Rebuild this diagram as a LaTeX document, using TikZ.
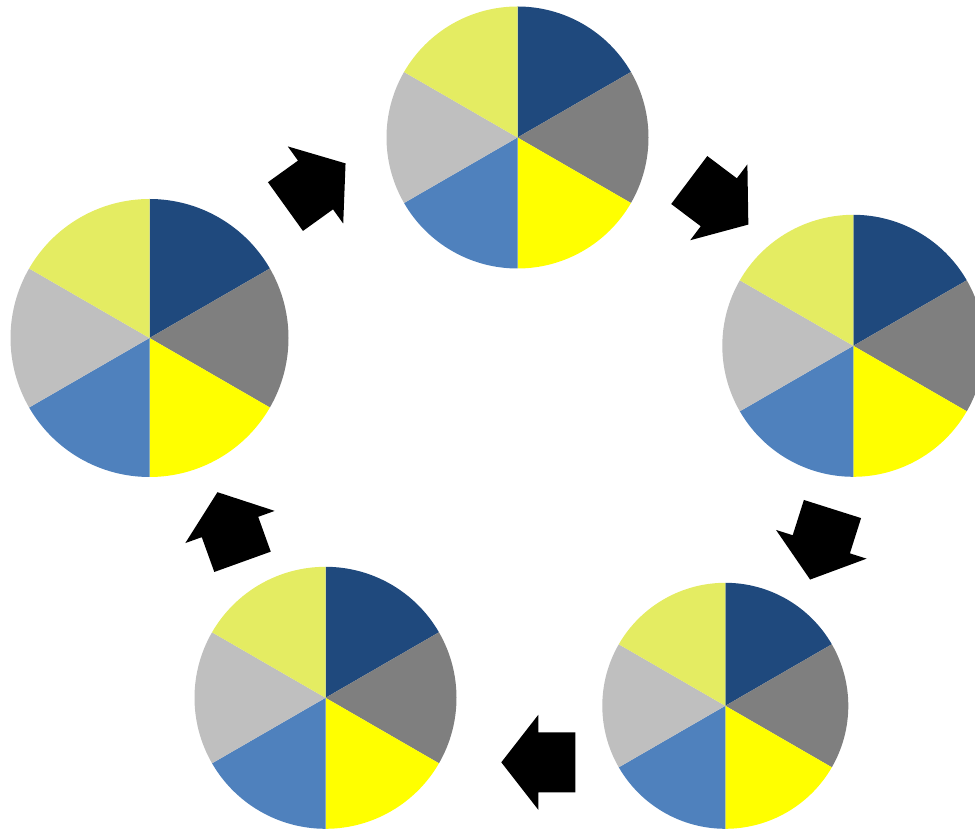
\documentclass[tikz,border=0pt]{standalone}
\definecolor{sA}{HTML}{1F497D}
\definecolor{sB}{HTML}{7F7F7F}
\definecolor{sC}{HTML}{FFFF00}
\definecolor{sD}{HTML}{4F81BD}
\definecolor{sE}{HTML}{BFBFBF}
\definecolor{sF}{HTML}{E4EC62}
\tikzset{
  pics/pie/.style={code={
    \fill[sA] (0,0) -- (90:#1) arc[start angle=90,end angle=30,radius=#1] -- cycle;
    \fill[sB] (0,0) -- (30:#1) arc[start angle=30,end angle=-30,radius=#1] -- cycle;
    \fill[sC] (0,0) -- (-30:#1) arc[start angle=-30,end angle=-90,radius=#1] -- cycle;
    \fill[sD] (0,0) -- (-90:#1) arc[start angle=-90,end angle=-150,radius=#1] -- cycle;
    \fill[sE] (0,0) -- (-150:#1) arc[start angle=-150,end angle=-210,radius=#1] -- cycle;
    \fill[sF] (0,0) -- (150:#1) arc[start angle=150,end angle=90,radius=#1] -- cycle;
  }},
  pics/blockarrow/.style={code={
    \fill[black] (-37,-30) -- (0,-30) -- (0,-47.5) -- (37,0) -- (0,47.5) -- (0,30) -- (-37,30) -- cycle;
  }}
}
\begin{document}
\begin{tikzpicture}[x=1pt,y=1pt]
\useasboundingbox (0,0) rectangle (975,830);
\clip (0,0) rectangle (975,830);
\coordinate (p1) at (517.5,692.5);
\coordinate (p2) at (853.3,484.2);
\coordinate (p3) at (725.3,124.2);
\coordinate (p4) at (325.5,132.2);
\coordinate (p5) at (149.5,492);
\pic at (p1) {pie=131};
\pic at (p2) {pie=131};
\pic at (p3) {pie=123};
\pic at (p4) {pie=131};
\pic at (p5) {pie=139};
\coordinate (a1) at (315.5,645);
\coordinate (a2) at (718.8,627.7);
\coordinate (a3) at (821.3,285.7);
\coordinate (a4) at (538.3,67.7);
\coordinate (a5) at (230,303);
\pic[rotate=35.7] at (a1) {blockarrow};
\pic[rotate=-37] at (a2) {blockarrow};
\pic[rotate=-107.6] at (a3) {blockarrow};
\pic[rotate=180] at (a4) {blockarrow};
\pic[rotate=109.8] at (a5) {blockarrow};
\end{tikzpicture}
\end{document}
